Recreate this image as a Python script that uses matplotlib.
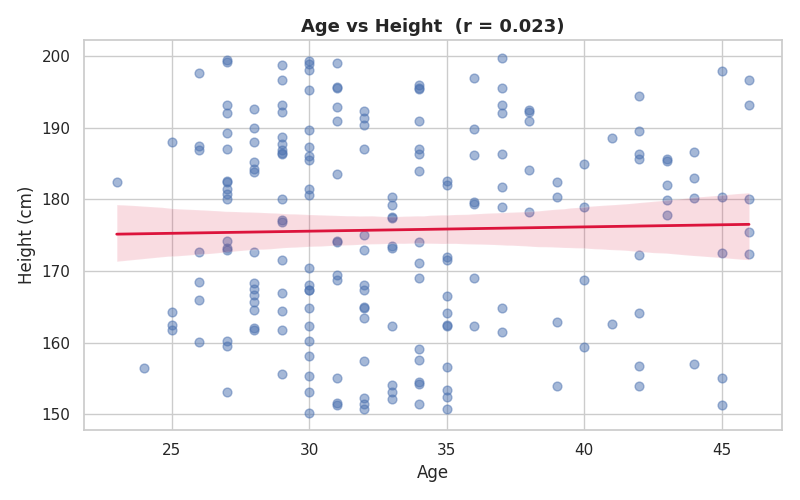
import matplotlib
matplotlib.use("Agg")
import matplotlib.pyplot as plt
import seaborn as sns
import numpy as np

cols = {
23: [182.5],
24: [156.5],
25: [188, 164.3, 162.5, 161.8],
26: [197.6, 187.4, 186.9, 172.6, 168.5, 166, 160.1],
27: [199.5, 199.2, 193.2, 192, 189.3, 187, 182.6, 182.4, 181.5, 180.8, 180.1, 174.2, 173.2, 172.9, 160.3, 159.5, 153.1],
28: [192.6, 190, 188, 185.2, 184.3, 183.8, 172.6, 168.4, 167.5, 166.6, 165.7, 164.6, 162, 161.8],
29: [198.7, 196.6, 193.2, 192.2, 188.7, 187.7, 186.9, 186.5, 186.4, 180, 177.1, 176.8, 171.6, 167, 164.5, 161.8, 155.7],
30: [199.3, 198.9, 198.1, 195.3, 189.7, 187.3, 186.1, 185.5, 181.4, 180.6, 170.5, 168.1, 167.4, 167.3, 164.8, 162.3, 160.2, 158.2, 155.3, 153.1, 150.2],
31: [199.1, 195.7, 195.5, 192.9, 191, 183.6, 174.2, 174.0, 169.5, 168.8, 155.1, 151.6, 151.3],
32: [192.4, 191.4, 190.4, 187, 175.1, 172.9, 168.1, 167.3, 165, 164.8, 163.5, 157.5, 152.3, 151.4, 150.7],
33: [180.3, 179.2, 177.5, 177.4, 173.5, 173.2, 162.3, 154.1, 153.2, 152.2],
34: [195.9, 195.6, 195.4, 190.9, 187.1, 186.3, 184, 174.1, 171.2, 169.1, 159.2, 157.6, 154.5, 154.2, 151.4],
35: [182.6, 182.0, 172, 171.6, 166.5, 164.2, 162.5, 162.4, 156.6, 153.4, 152.4, 150.7],
36: [197, 189.8, 186.2, 179.7, 179.4, 169, 162.3],
37: [199.7, 195.5, 193.2, 192.1, 186.4, 181.7, 178.9, 164.9, 161.5],
38: [192.5, 192.2, 191, 184.1, 178.3],
39: [182.4, 180.3, 162.9, 154],
40: [185, 179, 168.7, 159.4],
41: [188.6, 162.6],
42: [194.4, 189.5, 186.3, 185.6, 172.3, 164.2, 156.7, 154],
43: [185.6, 185.3, 182, 179.9, 177.8],
44: [186.6, 183, 180.2, 157],
45: [197.9, 180.3, 172.5, 155.1, 151.3],
46: [196.7, 193.2, 180, 175.5, 172.4],
}
age = np.array([a for a, hs in cols.items() for _ in hs], dtype=float)
height = np.array([h for hs in cols.values() for h in hs])

sns.set_theme(style="whitegrid")
fig, ax = plt.subplots(figsize=(8, 5), dpi=100)
sns.regplot(x=age, y=height, ax=ax, seed=0,
            scatter_kws=dict(alpha=0.5, s=40, color="#4c72b0"),
            line_kws=dict(color="crimson", lw=2))
ax.set_xlabel("Age", fontsize=12)
ax.set_ylabel("Height (cm)", fontsize=12)
ax.set_title("Age vs Height  (r = 0.023)", fontsize=13, fontweight="bold")
ax.set_xlim(21.8, 47.2)
ax.set_ylim(147.8, 202.2)
fig.tight_layout()
fig.savefig("out.png")
